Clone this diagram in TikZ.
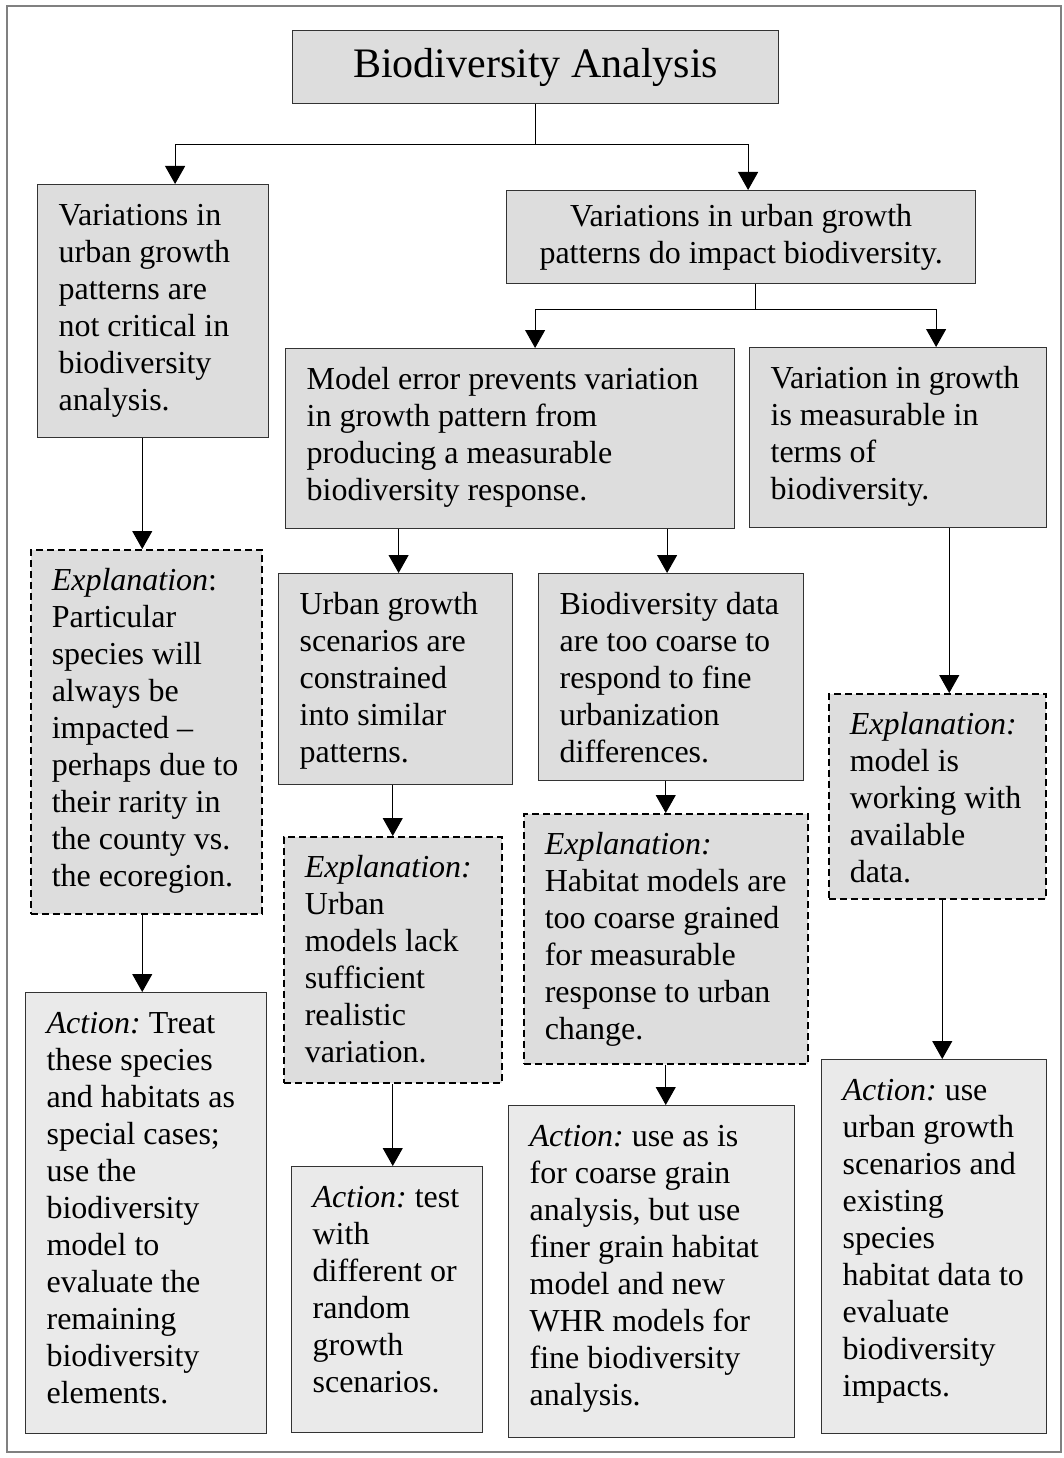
\documentclass[tikz,border=0pt]{standalone}
\usepackage{fontspec}
\setmainfont{Liberation Serif}
\usetikzlibrary{arrows.meta}
\definecolor{boxgray}{HTML}{DDDDDD}
\definecolor{actgray}{HTML}{EAEAEA}
\definecolor{edgegray}{HTML}{333333}
\newcommand{\boxtext}[3]{\parbox[c][\dimexpr#2pt-30pt\relax][t]{\dimexpr#1pt-42pt\relax}{\raggedright\strut#3}}
\frenchspacing

\begin{document}
\begin{tikzpicture}[x=1pt,y=-1pt,
        basebox/.style={anchor=north west,inner xsep=21pt,inner ysep=15pt,font=\fontsize{32}{37}\selectfont},
        claim/.style={basebox,draw=edgegray,line width=1.2pt,fill=boxgray},
        explain/.style={basebox,draw=black,line width=1.5pt,dash pattern=on 7pt off 4pt,fill=boxgray},
        action/.style={basebox,draw=edgegray,line width=1.2pt,fill=actgray},
        arr/.style={-{Triangle[length=18pt,width=20pt]},line width=1pt}]

        \useasboundingbox (0,0) rectangle (1063,1458);
        \draw[gray,line width=1.5pt] (7,6) rectangle (1061,1452);

        \node[claim,minimum width=486pt,minimum height=73pt,inner sep=0pt,font=\fontsize{42}{48}\selectfont] (title) at (292,30) {Biodiversity Analysis};
        \node[claim,minimum width=469pt,minimum height=93pt,inner sep=0pt,align=center] (r1) at (506,190) {Variations in urban growth\\ patterns do impact biodiversity.};

        \node[claim] (l1) at (37,184) {\boxtext{231}{253}{Variations in\\ urban growth\\ patterns are\\ not critical in\\ biodiversity\\ analysis.}};
        \node[claim] (m) at (285,348) {\boxtext{449}{180}{Model error prevents variation\\ in growth pattern from\\ producing a measurable\\ biodiversity response.}};
        \node[claim] (v) at (749,347) {\boxtext{297}{180}{Variation in growth\\ is measurable in\\ terms of\\ biodiversity.}};
        \node[claim] (u) at (278,573) {\boxtext{234}{211}{Urban growth\\ scenarios are\\ constrained\\ into similar\\ patterns.}};
        \node[claim] (b) at (538,573) {\boxtext{265}{207}{Biodiversity data\\ are too coarse to\\ respond to fine\\ urbanization\\ differences.}};

        \node[explain] (e1) at (30,549) {\boxtext{231}{364}{\textit{Explanation}:\\ Particular\\ species will\\ always be\\ impacted --\\ perhaps due to\\ their rarity in\\ the county vs.\\ the ecoregion.}};
        \node[explain] (e2) at (283,836) {\boxtext{218}{246}{\textit{Explanation:}\\ Urban\\ models lack\\ sufficient\\ realistic\\ variation.}};
        \node[explain] (e3) at (523,813) {\boxtext{284}{250}{\textit{Explanation:}\\ Habitat models are\\ too coarse grained\\ for measurable\\ response to urban\\ change.}};
        \node[explain] (e4) at (828,693) {\boxtext{217}{205}{\textit{Explanation:}\\ model is\\ working with\\ available\\ data.}};

        \node[action] (a1) at (25,992) {\boxtext{241}{441}{\textit{Action:} Treat\\ these species\\ and habitats as\\ special cases;\\ use the\\ biodiversity\\ model to\\ evaluate the\\ remaining\\ biodiversity\\ elements.}};
        \node[action] (a2) at (291,1166) {\boxtext{191}{266}{\textit{Action:} test\\ with\\ different or\\ random\\ growth\\ scenarios.}};
        \node[action] (a3) at (508,1105) {\boxtext{286}{332}{\textit{Action:} use as is\\ for coarse grain\\ analysis, but use\\ finer grain habitat\\ model and new\\ WHR models for\\ fine biodiversity\\ analysis.}};
        \node[action] (a4) at (821,1059) {\boxtext{225}{374}{\textit{Action:} use\\ urban growth\\ scenarios and\\ existing\\ species\\ habitat data to\\ evaluate\\ biodiversity\\ impacts.}};

        \draw[arr] (title.south) -- ++(0,40) -| ([xshift=22pt]l1.north);
        \draw[arr] (title.south) -- ++(0,40) -| ([xshift=7pt]r1.north);
        \draw[arr] ([xshift=14pt]r1.south) -- ++(0,25) -| ([xshift=25pt]m.north);
        \draw[arr] ([xshift=14pt]r1.south) -- ++(0,25) -| ([xshift=38pt]v.north);

        \draw[arr] ([xshift=-4pt]e1.north |- l1.south) -- ([xshift=-4pt]e1.north);
        \draw[arr] ([xshift=-4pt]e1.south) -- ([xshift=-4pt]e1.south |- a1.north);
        \draw[arr] ([xshift=3pt]u.north |- m.south) -- ([xshift=3pt]u.north);
        \draw[arr] ([xshift=-4pt]b.north |- m.south) -- ([xshift=-4pt]b.north);
        \draw[arr] (e2.north |- u.south) -- (e2.north);
        \draw[arr] (e2.south) -- (e2.south |- a2.north);
        \draw[arr] (e3.north |- b.south) -- (e3.north);
        \draw[arr] (e3.south) -- (e3.south |- a3.north);
        \draw[arr] ([xshift=12pt]e4.north |- v.south) -- ([xshift=12pt]e4.north);
        \draw[arr] ([xshift=5pt]e4.south) -- ([xshift=5pt]e4.south |- a4.north);
\end{tikzpicture}
\end{document}
